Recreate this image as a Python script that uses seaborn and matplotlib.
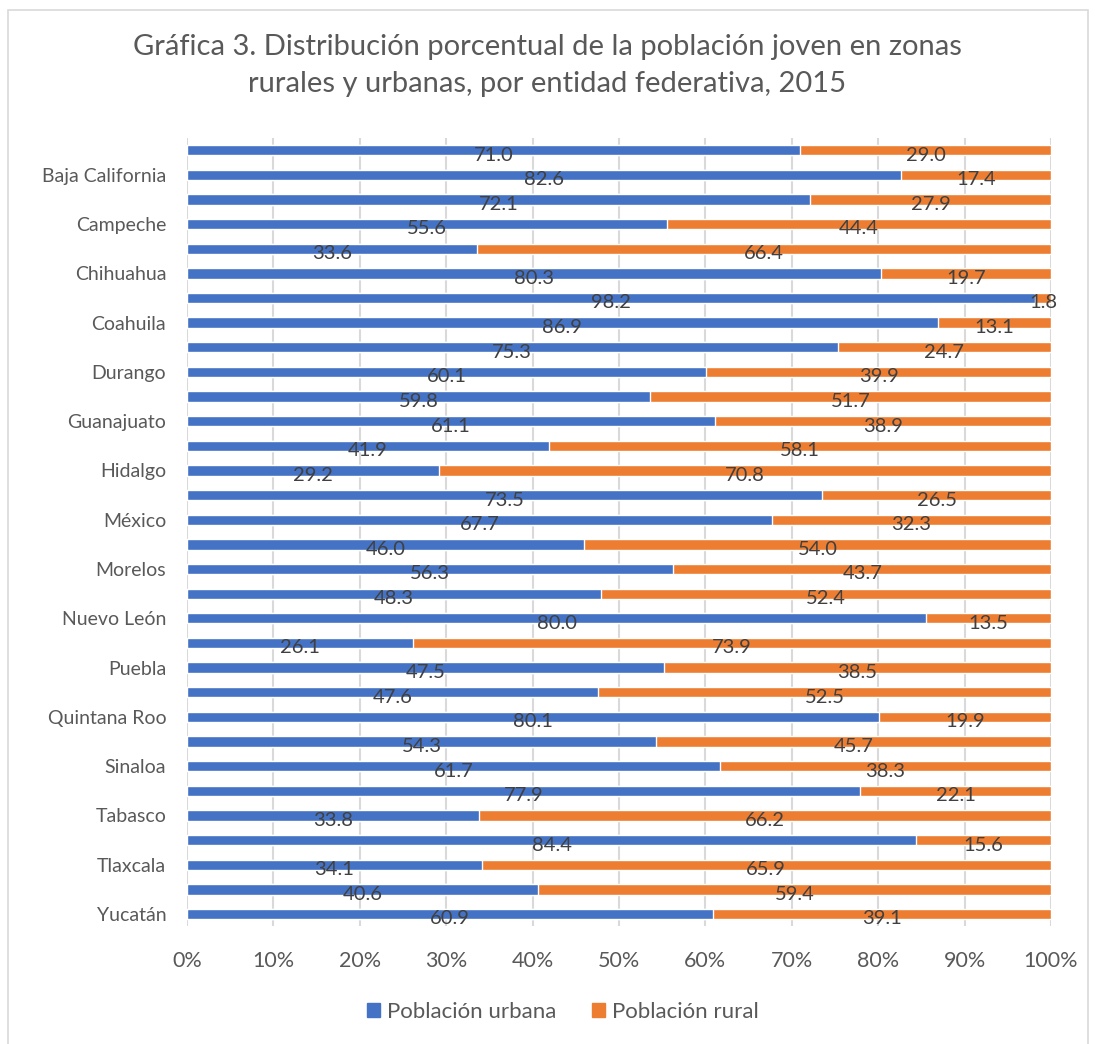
import pandas as pd
import numpy as np
import matplotlib.pyplot as plt
import seaborn as sns
from matplotlib.patches import Rectangle, Patch
from matplotlib.ticker import PercentFormatter

# entidades (solo las filas pares muestran su nombre en el eje)
entidades = ["Aguascalientes", "Baja California", "Baja California Sur", "Campeche",
             "Chiapas", "Chihuahua", "Ciudad de México", "Coahuila",
             "Colima", "Durango", "Zacatecas", "Guanajuato",
             "Guerrero", "Hidalgo", "Jalisco", "México",
             "Michoacán", "Morelos", "Nayarit", "Nuevo León",
             "Oaxaca", "Puebla", "Querétaro", "Quintana Roo",
             "San Luis Potosí", "Sinaloa", "Sonora", "Tabasco",
             "Tamaulipas", "Tlaxcala", "Veracruz", "Yucatán"]
urbana = [71.0, 82.6, 72.1, 55.6, 33.6, 80.3, 98.2, 86.9,
          75.3, 60.1, 59.8, 61.1, 41.9, 29.2, 73.5, 67.7,
          46.0, 56.3, 48.3, 80.0, 26.1, 47.5, 47.6, 80.1,
          54.3, 61.7, 77.9, 33.8, 84.4, 34.1, 40.6, 60.9]
rural = [29.0, 17.4, 27.9, 44.4, 66.4, 19.7, 1.8, 13.1,
         24.7, 39.9, 51.7, 38.9, 58.1, 70.8, 26.5, 32.3,
         54.0, 43.7, 52.4, 13.5, 73.9, 38.5, 52.5, 19.9,
         45.7, 38.3, 22.1, 66.2, 15.6, 65.9, 59.4, 39.1]
x_ticks = [0, 10, 20, 30, 40, 50, 60, 70, 80, 90, 100]

AZUL = "#4472C4"
NARANJA = "#ED7D31"
GRIS = "#595959"

sns.set_style("white")
plt.rcParams['font.family'] = ['Lato', 'DejaVu Sans']

df = pd.DataFrame({"entidad": entidades, "urbana": urbana, "rural": rural})
df["total"] = df["urbana"] + df["rural"]
df["pct_urbana"] = df["urbana"] / df["total"] * 100
df["pct_total"] = 100.0

fig = plt.figure(figsize=(10.95, 10.44), dpi=100)
ax = fig.add_axes([0.1708, 0.1127, 0.789, 0.7553])

# barras 100% apiladas: primero el total (rural), encima la parte urbana
sns.barplot(data=df, y="entidad", x="pct_total", color=NARANJA, orient="h",
            width=0.42, ax=ax, saturation=1, zorder=3)
sns.barplot(data=df, y="entidad", x="pct_urbana", color=AZUL, orient="h",
            width=0.42, ax=ax, saturation=1, zorder=3)

# etiquetas de datos
for i, row in df.iterrows():
    xu = row["pct_urbana"] / 2
    xr = row["pct_urbana"] + (100 - row["pct_urbana"]) / 2
    ax.text(xu, i + 0.2, f"{row['urbana']:.1f}", ha="center", va="center",
            fontsize=14.5, color="#404040", zorder=4)
    ax.text(xr, i + 0.2, f"{row['rural']:.1f}", ha="center", va="center",
            fontsize=14.5, color="#404040", zorder=4)

ax.set_xlim(0, 100)
ax.set_ylim(len(df) - 0.5, -0.5)
ax.set_xticks(x_ticks)
ax.xaxis.set_major_formatter(PercentFormatter(decimals=0))
ax.set_yticks(range(len(df)))
ax.set_yticklabels([e if i % 2 == 1 else "" for i, e in enumerate(entidades)])
ax.tick_params(axis="both", length=0, labelcolor=GRIS)
ax.tick_params(axis="y", pad=15, labelsize=14)
ax.tick_params(axis="x", pad=18, labelsize=15.5)
ax.set_xlabel("")
ax.set_ylabel("")
ax.grid(axis="x", color="#D9D9D9", linewidth=1.5, zorder=0)
for s in ax.spines.values():
    s.set_visible(False)

fig.text(0.5, 0.955, "Gráfica 3. Distribución porcentual de la población joven en zonas",
         ha="center", va="center", fontsize=21, color=GRIS)
fig.text(0.5, 0.920, "rurales y urbanas, por entidad federativa, 2015",
         ha="center", va="center", fontsize=21, color=GRIS)

handles = [Patch(color=AZUL, label="Población urbana"),
           Patch(color=NARANJA, label="Población rural")]
fig.legend(handles=handles, loc="center", bbox_to_anchor=(0.514, 0.031), ncol=2,
           frameon=False, fontsize=16, labelcolor=GRIS, handlelength=0.6,
           handleheight=0.6, handletextpad=0.3, columnspacing=1.6)

# borde del área del gráfico
fig.patches.append(Rectangle((8 / 1095, -0.01), 1080 / 1095, 1.0, transform=fig.transFigure,
                             fill=False, edgecolor="#D9D9D9", linewidth=1.2))

fig.savefig("out.png", dpi=100)
plt.close()
